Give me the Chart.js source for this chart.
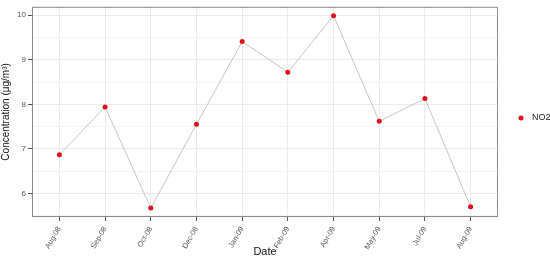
<!DOCTYPE html>
<html lang="en">
<head>
    <meta charset="UTF-8">
    <title>NO2 Concentration</title>
    <script src="https://cdn.jsdelivr.net/npm/chart.js"></script>
    <style>
        body {
            margin: 0;
            padding: 0;
            background: white;
        }
        .wrap {
            width: 550px;
            height: 261px;
        }
    </style>
</head>
<body>
    <div class="wrap"><canvas id="no2Chart"></canvas></div>

    <script>
        // Data
        const dates = ['Aug-08', 'Sep-08', 'Oct-08', 'Dec-08', 'Jan-09', 'Feb-09', 'Apr-09', 'May-09', 'Jul-09', 'Aug-09'];
        const no2Values = [6.87, 7.94, 5.67, 7.55, 9.41, 8.72, 9.99, 7.62, 8.13, 5.70];
        const yTicks = [5.5, 6, 6.5, 7, 7.5, 8, 8.5, 9, 9.5, 10];

        const fontFamily = '"Liberation Sans", Arial, sans-serif';
        const pointRed = '#e3101a';

        // panel border + legend on the right
        const panelPlugin = {
            id: 'panel',
            afterDraw(chart) {
                const ctx = chart.ctx;
                const a = chart.chartArea;
                ctx.save();
                ctx.strokeStyle = '#8a8a8a';
                ctx.lineWidth = 1;
                ctx.strokeRect(a.left + 0.5, a.top + 0.5, a.right - a.left - 1, a.bottom - a.top - 1);

                // legend
                const cy = (a.top + a.bottom) / 2 + 6;
                ctx.fillStyle = pointRed;
                ctx.beginPath();
                ctx.arc(521, cy, 2.5, 0, Math.PI * 2);
                ctx.fill();
                ctx.fillStyle = '#222';
                ctx.font = '9px ' + fontFamily;
                ctx.textBaseline = 'middle';
                ctx.textAlign = 'left';
                ctx.fillText('NO2', 532, cy);
                ctx.restore();
            }
        };

        const ctx = document.getElementById('no2Chart').getContext('2d');
        new Chart(ctx, {
            type: 'line',
            data: {
                datasets: [{
                    label: 'NO2',
                    data: no2Values.map((v, i) => ({ x: i, y: v })),
                    borderColor: '#c4c4c4',
                    borderWidth: 1,
                    pointBackgroundColor: pointRed,
                    pointBorderColor: pointRed,
                    pointRadius: 2.5,
                    pointBorderWidth: 0,
                    tension: 0,
                    fill: false
                }]
            },
            options: {
                responsive: true,
                maintainAspectRatio: false,
                animation: false,
                layout: {
                    padding: { top: 4, right: 52, left: 0, bottom: 0 }
                },
                plugins: {
                    legend: { display: false },
                    tooltip: { enabled: false }
                },
                scales: {
                    x: {
                        type: 'linear',
                        min: -0.6,
                        max: dates.length - 1 + 0.6,
                        afterBuildTicks: (scale) => {
                            scale.ticks = dates.map((d, i) => ({ value: i }));
                        },
                        afterFit: (scale) => { scale.height = 44; },
                        ticks: {
                            autoSkip: false,
                            minRotation: 60,
                            maxRotation: 60,
                            padding: 4,
                            color: '#555',
                            font: { family: fontFamily, size: 7.5 },
                            callback: (v) => dates[v]
                        },
                        grid: {
                            color: '#ebebeb',
                            tickColor: '#555',
                            tickLength: 4
                        },
                        border: { display: false },
                        title: {
                            display: true,
                            text: 'Date',
                            color: '#111',
                            font: { family: fontFamily, size: 11 },
                            padding: { top: 0, bottom: 2 }
                        }
                    },
                    y: {
                        min: 5.47,
                        max: 10.19,
                        afterBuildTicks: (scale) => {
                            scale.ticks = yTicks.map(v => ({ value: v }));
                        },
                        afterFit: (scale) => { scale.width = 32; },
                        ticks: {
                            padding: 2,
                            color: '#555',
                            font: { family: fontFamily, size: 8 },
                            callback: (v) => Number.isInteger(v) ? v : ''
                        },
                        grid: {
                            color: (c) => Number.isInteger(c.tick.value) ? '#ebebeb' : '#f4f4f4',
                            tickColor: (c) => Number.isInteger(c.tick.value) ? '#555' : 'rgba(0,0,0,0)',
                            tickLength: 4
                        },
                        border: { display: false },
                        title: {
                            display: true,
                            text: 'Concentration (μg/m³)',
                            color: '#111',
                            font: { family: fontFamily, size: 10 },
                            padding: { top: 0, bottom: 3 }
                        }
                    }
                }
            },
            plugins: [panelPlugin]
        });
    </script>
</body>
</html>
